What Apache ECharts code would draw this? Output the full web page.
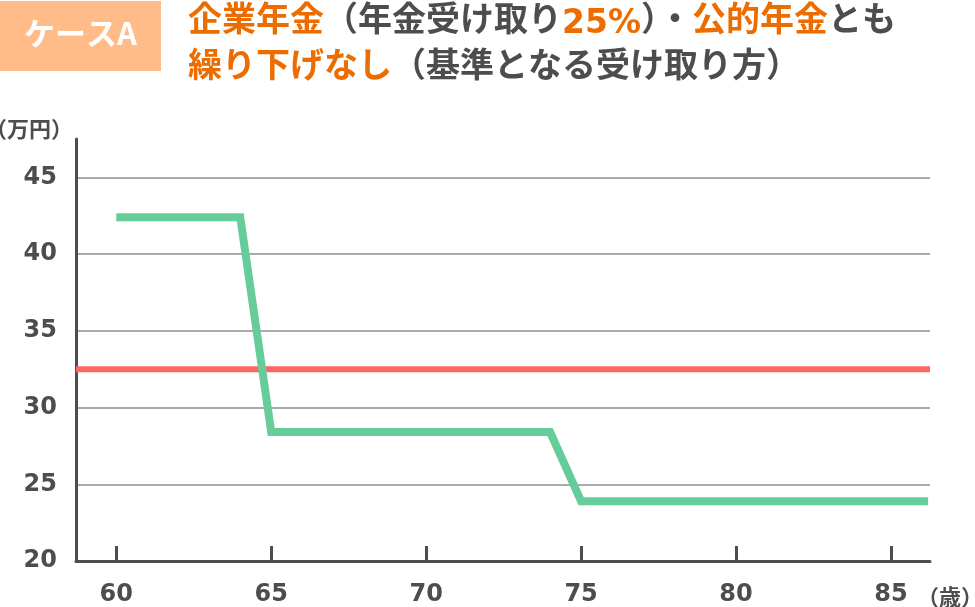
<!DOCTYPE html>
<html>
<head>
<meta charset="utf-8">
<script src="https://cdn.jsdelivr.net/npm/echarts@6/dist/echarts.min.js"></script>
<style>
html,body{margin:0;padding:0;background:#fff;}
#c{width:975px;height:607px;}
</style>
</head>
<body>
<div id="c"></div>
<script>
// ---- data ----
const ages = [60, 64, 65, 74, 75, 86.2];
const pensionAmounts = [42.4, 42.4, 28.4, 28.4, 23.9, 23.9];
const baselineValue = 32.5;
const xTicks = [60, 65, 70, 75, 80, 85];
const yTicks = [20, 25, 30, 35, 40, 45];
const xRange = [58.7, 86.26];
const yRange = [20, 47.5];

const baselineAges = [xRange[0], xRange[1]];
const baselineValues = [baselineValue, baselineValue];

const AXIS = '#4d4d4d';
const ORANGE = '#ec6c00';
const CJK = '"Noto Sans CJK JP", sans-serif';
const NUM = '"DejaVu Sans", "Noto Sans CJK JP", sans-serif';

const chart = echarts.init(document.getElementById('c'), null, {renderer: 'canvas'});
chart.setOption({
  animation: false,
  backgroundColor: '#fff',
  grid: {left: 76, right: 45, top: 139, bottom: 39, containLabel: false},
  xAxis: {
    type: 'value',
    min: xRange[0], max: xRange[1],
    axisLine: {show: true, lineStyle: {color: AXIS, width: 3}},
    axisTick: {show: true, inside: true, length: 15, lineStyle: {color: AXIS, width: 3}, customValues: xTicks},
    axisLabel: {customValues: xTicks, color: AXIS, fontSize: 24, fontWeight: 'bold', fontFamily: NUM, margin: 22},
    splitLine: {show: false}
  },
  yAxis: {
    type: 'value',
    min: yRange[0], max: yRange[1],
    axisLine: {show: true, lineStyle: {color: AXIS, width: 3}},
    axisTick: {show: false, customValues: yTicks},
    axisLabel: {customValues: yTicks, color: AXIS, fontSize: 24, fontWeight: 'bold', fontFamily: NUM, margin: 19, padding: [6, 0, 0, 0]},
    splitLine: {show: true, lineStyle: {color: '#aaaaaa', width: 2}}
  },
  series: [
    {
      type: 'line',
      data: baselineAges.map((a, i) => [a, baselineValues[i]]),
      symbol: 'none',
      lineStyle: {color: '#ff6666', width: 6},
      z: 2
    },
    {
      type: 'line',
      data: ages.map((a, i) => [a, pensionAmounts[i]]),
      symbol: 'none',
      lineStyle: {color: '#66cc99', width: 8, join: 'miter'},
      z: 3
    }
  ],
  graphic: [
    {
      type: 'rect', left: 0, top: 1, shape: {width: 161, height: 70},
      style: {fill: '#ffbb88'}
    },
    {
      type: 'text', left: 24, top: 18,
      style: {text: 'ケースA', fill: '#fff', font: 'bold 31px ' + CJK}
    },
    {
      type: 'text', left: 188, top: 1,
      style: {
        text: '{o|企業年金}{g|（年金受け取り}{on|25%}{g|）・}{o|公的年金}{g|とも}\n{o|繰り下げなし}{g|（基準となる受け取り方）}',
        rich: {
          o: {fill: ORANGE, fontSize: 34, fontWeight: 'bold', fontFamily: CJK, lineHeight: 46},
          on: {fill: ORANGE, fontSize: 33, fontWeight: 'bold', fontFamily: NUM, lineHeight: 36, verticalAlign: 'bottom'},
          g: {fill: AXIS, fontSize: 34, fontWeight: 'bold', fontFamily: CJK, lineHeight: 46}
        }
      }
    },
    {
      type: 'text', left: -15, top: 118,
      style: {text: '（万円）', fill: AXIS, font: 'bold 22px ' + CJK}
    },
    {
      type: 'text', left: 917, top: 586,
      style: {text: '（歳）', fill: AXIS, font: 'bold 22px ' + CJK}
    }
  ]
});
</script>
</body>
</html>
